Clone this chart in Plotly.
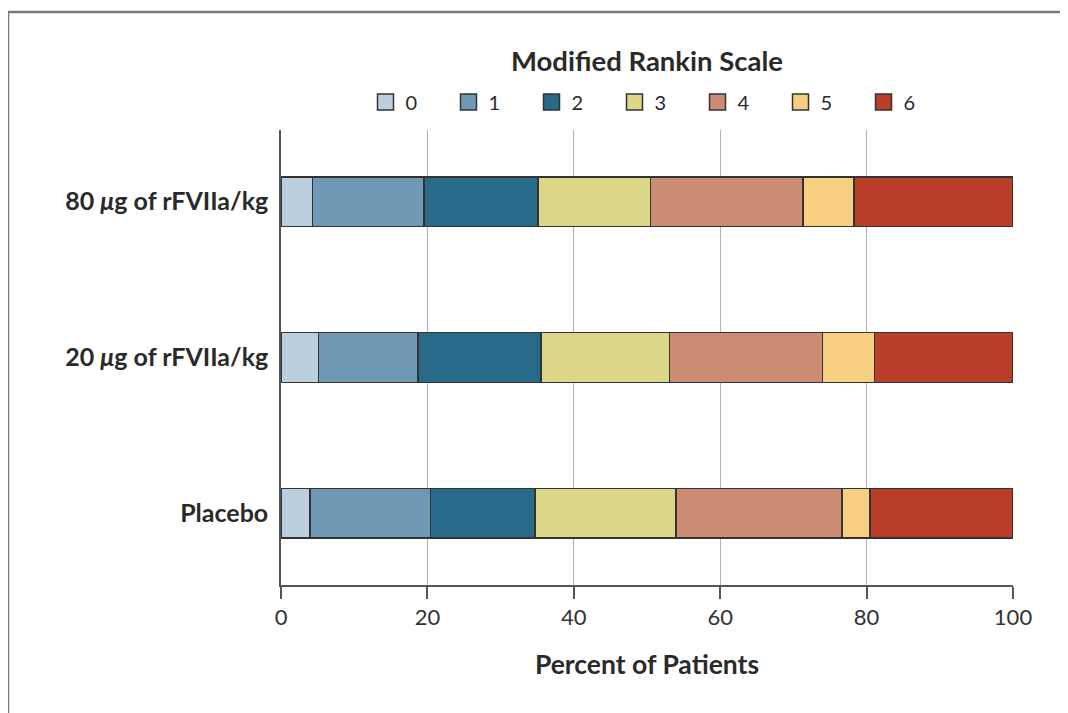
import plotly.graph_objects as go

categories = ["Placebo", "20 <i>μ</i>g of rFVIIa/kg", "80 <i>μ</i>g of rFVIIa/kg"]
levels = ["0", "1", "2", "3", "4", "5", "6"]
# percent of patients per Modified Rankin Scale level, ordered as categories
mrs0 = [4.0, 5.1, 4.3]
mrs1 = [16.4, 13.6, 15.2]
mrs2 = [14.3, 16.8, 15.6]
mrs3 = [19.3, 17.6, 15.4]
mrs4 = [22.6, 20.9, 20.8]
mrs5 = [3.9, 7.1, 7.0]
mrs6 = [19.5, 18.9, 21.7]
x_ticks = [0, 20, 40, 60, 80, 100]

series = [mrs0, mrs1, mrs2, mrs3, mrs4, mrs5, mrs6]
colors = ["#bccfde", "#6e98b4", "#286a88", "#dcd688", "#cc8c74", "#f6d080", "#b93e28"]

FONT = "Lato"
TXT = "#2a2a2a"
fig = go.Figure()
for name, vals, col in zip(levels, series, colors):
    fig.add_trace(go.Bar(
        y=categories, x=vals, name=name, orientation="h", showlegend=False,
        marker=dict(color=col, line=dict(color="#333333", width=1.6)),
        width=0.32,
    ))
# legend entries with larger square swatches
for name, col in zip(levels, colors):
    fig.add_trace(go.Scatter(
        x=[None], y=[None], mode="markers", name=name,
        marker=dict(symbol="square", size=16, color=col, line=dict(color="#333333", width=1.5)),
    ))

# page body adds 8px offset; plot area targets screen px x 281..1013, y 130..585
fig.update_layout(
    barmode="stack",
    width=1068, height=713,
    margin=dict(l=273, r=63, t=122, b=136),
    paper_bgcolor="white", plot_bgcolor="white",
    font=dict(family=FONT, color=TXT),
    legend=dict(
        orientation="h", x=0.5 + 9 / 732, xanchor="center", y=1 + 28 / 455, yanchor="middle",
        font=dict(size=20, family=FONT, color=TXT),
        entrywidth=38, entrywidthmode="pixels", itemsizing="trace",
        traceorder="normal", itemclick=False,
    ),
    showlegend=True,
    annotations=[dict(
        text="<b>Modified Rankin Scale</b>", xref="paper", yref="paper",
        x=0.5, y=(585 - 60) / 455, xanchor="center", yanchor="middle",
        showarrow=False, font=dict(size=27.5, family=FONT, color=TXT),
    )],
    shapes=[dict(
        type="rect", xref="paper", yref="paper",
        x0=(8 - 281) / 732, x1=1.3, y0=-0.5, y1=(585 - 12) / 455,
        line=dict(color="#7a7a7a", width=2.5), fillcolor="rgba(0,0,0,0)", layer="below",
    )],
)
fig.update_xaxes(
    range=[0, 100], tickvals=x_ticks, showgrid=True, gridcolor="#b4b4b4", gridwidth=1,
    showline=True, linecolor="#555555", linewidth=1.5,
    ticks="outside", ticklen=12, tickcolor="#555555", tickwidth=1.5,
    tickfont=dict(size=22, family=FONT, color="#333333"), zeroline=False,
    title=dict(text="<b>Percent of Patients</b>", font=dict(size=26.5, family=FONT, color=TXT), standoff=26),
)
fig.update_yaxes(
    categoryorder="array", categoryarray=categories, range=[-0.46, 2.46],
    showline=True, linecolor="#555555", linewidth=1.5, showgrid=False, ticks="",
    tickfont=dict(size=25, family=FONT, color=TXT, weight="bold"), ticklabelstandoff=6,
)
fig.write_html("out.html")
